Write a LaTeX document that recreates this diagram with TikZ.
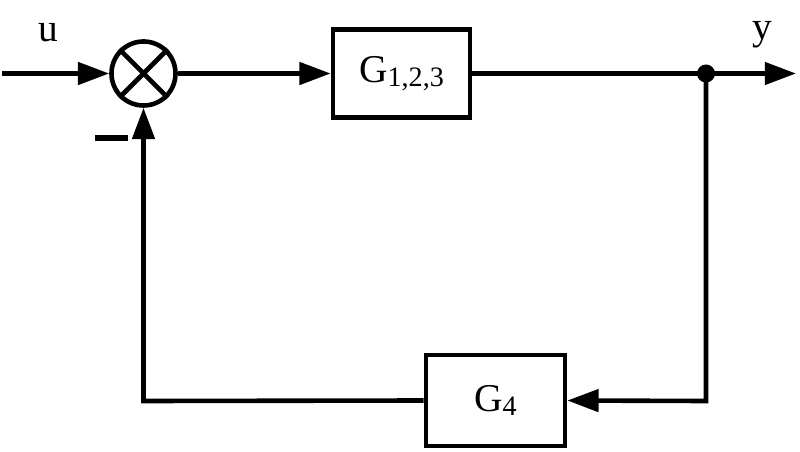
\documentclass[tikz,border=0pt]{standalone}
\usepackage{fontspec}
\setmainfont{Liberation Serif}
\usetikzlibrary{arrows.meta}
\begin{document}
\begin{tikzpicture}[x=0.025cm,y=-0.025cm,
  wire/.style={line width=0.115cm},
  arr/.style={wire,-{Triangle[length=0.78cm,width=0.55cm]}},
  blk/.style={draw,line width=0.12cm,inner sep=0pt,font=\fontsize{28}{32}\selectfont},
  sumc/.style={draw,circle,line width=0.115cm,minimum size=1.6cm,inner sep=0pt},
  lbl/.style={font=\fontsize{28}{32}\selectfont,inner sep=0pt}]
\useasboundingbox (0,0) rectangle (800,452);
% nodes
\node[sumc] (s) at (143.5,73.5) {};
\draw[wire] (s.45) -- (s.225) (s.135) -- (s.315);
\node[blk,minimum width=3.42cm,minimum height=2.2cm] (g1) at (401.5,73.5)
  {G\raisebox{-0.12em}{\fontsize{20}{22}\selectfont 1,2,3}};
\node[blk,minimum width=3.47cm,minimum height=2.27cm] (g4) at (495.5,400.5)
  {G\raisebox{-0.12em}{\fontsize{20}{22}\selectfont 4}};
\coordinate (in) at (2,73.5);
\coordinate (out) at (796,73.5);
\node[circle,fill,minimum size=0.45cm,inner sep=0pt] (d) at (706,73.5) {};
\coordinate (br) at (706,401);
\coordinate (bl) at (143.5,401);
\node[lbl] (u) at (48,33) {u};
\node[lbl] (y) at (762,35) {y};
\coordinate (m1) at (95,138);
\coordinate (m2) at (128,138);
% connectors
\draw[arr] (in) -- (s);
\draw[arr] (s) -- (g1);
\draw[arr] (g1) -- (out);
\draw[arr] (d.center) -- (br) -- (g4.east);
\draw[arr] (g4.west) -- (bl) -- (s.south);
\draw[line width=0.13cm] (m1) -- (m2);
\end{tikzpicture}
\end{document}
